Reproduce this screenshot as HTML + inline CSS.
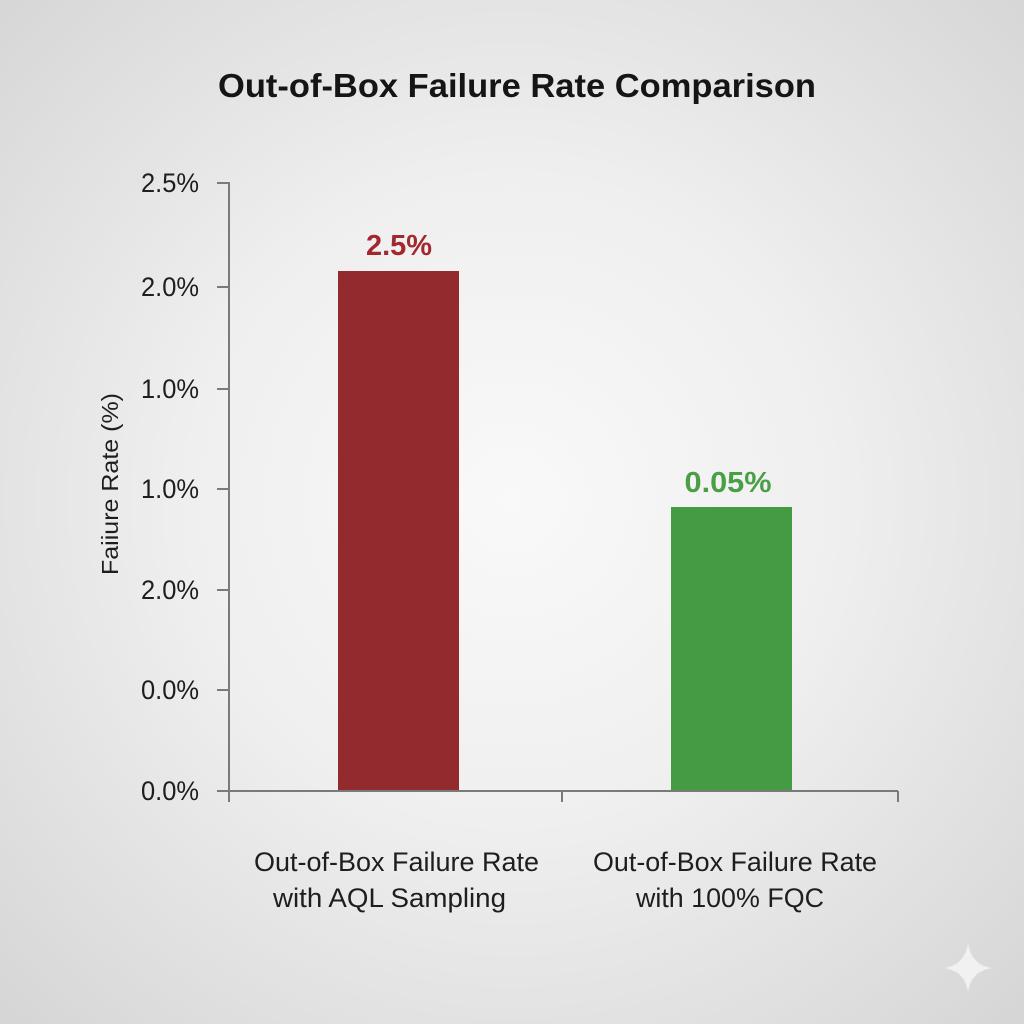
<!DOCTYPE html>
<html>
<head>
<meta charset="utf-8">
<style>
  html,body{margin:0;padding:0;width:1024px;height:1024px;overflow:hidden;}
  svg{display:block;}
  text{font-family:"Liberation Sans", sans-serif;}
</style>
</head>
<body>
<svg width="1024" height="1024" viewBox="0 0 1024 1024" xmlns="http://www.w3.org/2000/svg">
  <defs>
    <radialGradient id="bg" cx="512" cy="500" r="720" gradientUnits="userSpaceOnUse">
      <stop offset="0" stop-color="#f9f9f9"/>
      <stop offset="0.45" stop-color="#efefef"/>
      <stop offset="1" stop-color="#d6d6d6"/>
    </radialGradient>
  </defs>
  <rect x="0" y="0" width="1024" height="1024" fill="url(#bg)"/>

  <!-- Title -->
  <text x="517" y="97" text-anchor="middle" font-size="33" font-weight="bold" fill="#151515" textLength="598" lengthAdjust="spacingAndGlyphs">Out-of-Box Failure Rate Comparison</text>

  <!-- Bars -->
  <rect x="338" y="271" width="121" height="520" fill="#922a2e"/>
  <rect x="671" y="507" width="121" height="284" fill="#449b43"/>

  <!-- Axes -->
  <g stroke="#7a7a7a" stroke-width="2" fill="none">
    <line x1="229" y1="182" x2="229" y2="802"/>
    <line x1="217" y1="791" x2="898" y2="791"/>
    <line x1="562" y1="791" x2="562" y2="802"/>
    <line x1="898" y1="791" x2="898" y2="802"/>
    <line x1="217" y1="183" x2="229" y2="183"/>
    <line x1="217" y1="287" x2="229" y2="287"/>
    <line x1="217" y1="389" x2="229" y2="389"/>
    <line x1="217" y1="489" x2="229" y2="489"/>
    <line x1="217" y1="590" x2="229" y2="590"/>
    <line x1="217" y1="690" x2="229" y2="690"/>
  </g>

  <!-- Tick labels -->
  <g font-size="27" fill="#1e1e1e" text-anchor="end">
    <text x="199" y="192" textLength="58" lengthAdjust="spacingAndGlyphs">2.5%</text>
    <text x="199" y="296" textLength="58" lengthAdjust="spacingAndGlyphs">2.0%</text>
    <text x="199" y="398" textLength="58" lengthAdjust="spacingAndGlyphs">1.0%</text>
    <text x="199" y="498" textLength="58" lengthAdjust="spacingAndGlyphs">1.0%</text>
    <text x="199" y="599" textLength="58" lengthAdjust="spacingAndGlyphs">2.0%</text>
    <text x="199" y="699" textLength="58" lengthAdjust="spacingAndGlyphs">0.0%</text>
    <text x="199" y="800" textLength="58" lengthAdjust="spacingAndGlyphs">0.0%</text>
  </g>

  <!-- Y axis label -->
  <text transform="translate(118,484) rotate(-90)" text-anchor="middle" font-size="23" fill="#1e1e1e" textLength="182" lengthAdjust="spacingAndGlyphs">Faiiure Rate (%)</text>

  <!-- Value labels -->
  <text x="399" y="255" text-anchor="middle" font-size="29" font-weight="bold" fill="#a3282d" textLength="66" lengthAdjust="spacingAndGlyphs">2.5%</text>
  <text x="728" y="492" text-anchor="middle" font-size="29" font-weight="bold" fill="#4a9e45" textLength="87" lengthAdjust="spacingAndGlyphs">0.05%</text>

  <!-- Category labels -->
  <g font-size="27" fill="#1e1e1e" text-anchor="middle">
    <text x="396.5" y="871" textLength="285" lengthAdjust="spacingAndGlyphs">Out-of-Box Failure Rate</text>
    <text x="389.5" y="907" textLength="233" lengthAdjust="spacingAndGlyphs">with AQL Sampling</text>
    <text x="735" y="871" textLength="284" lengthAdjust="spacingAndGlyphs">Out-of-Box Failure Rate</text>
    <text x="730" y="907" textLength="188" lengthAdjust="spacingAndGlyphs">with 100% FQC</text>
  </g>

  <!-- Sparkle -->
  <path d="M968 943 Q971 965 992 968 Q971 971 968 992 Q965 971 944 968 Q965 965 968 943 Z" fill="#f1f1f1"/>
</svg>
</body>
</html>
